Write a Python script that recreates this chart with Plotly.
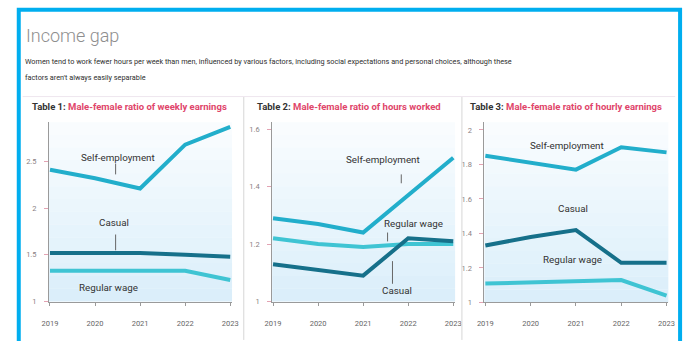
import plotly.graph_objects as go

# ---- data -------------------------------------------------------------
years = [2019, 2020, 2021, 2022, 2023]
year_labels = ["2019", "2020", "2021", "2022", "2023"]

# Table 1: male-female ratio of weekly earnings
weekly_self = [2.41, 2.32, 2.21, 2.68, 2.87]
weekly_casual = [1.52, 1.52, 1.52, 1.50, 1.48]
weekly_regular = [1.33, 1.33, 1.33, 1.33, 1.23]

# Table 2: male-female ratio of hours worked
hours_self = [1.29, 1.27, 1.24, 1.37, 1.50]
hours_regular = [1.22, 1.20, 1.19, 1.20, 1.20]
hours_casual = [1.13, 1.11, 1.09, 1.22, 1.21]

# Table 3: male-female ratio of hourly earnings
hourly_self = [1.85, 1.81, 1.77, 1.90, 1.87]
hourly_casual = [1.33, 1.38, 1.42, 1.23, 1.23]
hourly_regular = [1.11, 1.115, 1.12, 1.13, 1.04]

ticks1 = [1, 1.5, 2, 2.5]
tick1_labels = ["1", "1.5", "2", "2.5"]
ticks2 = [1, 1.2, 1.4, 1.6]
tick2_labels = ["1", "1.2", "1.4", "1.6"]
ticks3 = [1, 1.2, 1.4, 1.6, 1.8, 2]
tick3_labels = ["1", "1.2", "1.4", "1.6", "1.8", "2"]

title = "Income gap"
subtitle_1 = ("Women tend to work fewer hours per week than men, influenced by various factors, "
              "including social expectations and personal choices, although these")
subtitle_2 = "factors aren't always easily separable"

# ---- styling ----------------------------------------------------------
W, H = 691, 341
FONT = "Roboto, 'Open Sans', sans-serif"
C_SELF = "#22aecb"
C_CASUAL = "#16708a"
C_REG = "#3fc4d3"
RED = "#e0456a"


def fx(px):
    return px / W


def fy(py):
    return 1 - py / H


fig = go.Figure()

panels = [
    dict(n=1, x=(42, 229), y=(306, 124), yr=(1, 2.92), ticks=ticks1, labels=tick1_labels,
         series=[(weekly_self, C_SELF), (weekly_regular, C_REG), (weekly_casual, C_CASUAL)]),
    dict(n=2, x=(270, 457), y=(306, 124), yr=(1, 1.624), ticks=ticks2, labels=tick2_labels,
         series=[(hours_self, C_SELF), (hours_regular, C_REG), (hours_casual, C_CASUAL)]),
    dict(n=3, x=(487, 675), y=(307, 124), yr=(1, 2.045), ticks=ticks3, labels=tick3_labels,
         series=[(hourly_self, C_SELF), (hourly_regular, C_REG), (hourly_casual, C_CASUAL)]),
]

layout_axes = {}
shapes = []
for p in panels:
    n = p["n"]
    xa = "x" if n == 1 else f"x{n}"
    ya = "y" if n == 1 else f"y{n}"
    for vals, col in p["series"]:
        fig.add_trace(go.Scatter(x=years, y=vals, mode="lines", xaxis=xa, yaxis=ya,
                                 line=dict(color=col, width=4), hoverinfo="skip",
                                 showlegend=False))
    layout_axes[f"xaxis{'' if n == 1 else n}"] = dict(
        domain=[fx(p["x"][0]), fx(p["x"][1])], range=[2018.98, 2023.04],
        anchor=ya, tickvals=years, ticktext=year_labels, showgrid=False, zeroline=False,
        showline=True, linecolor="#9a9a9a", linewidth=1, ticks="outside", ticklen=3,
        tickcolor="#9a9a9a", tickfont=dict(family=FONT, size=7.5, color="#666"),
        ticklabelstandoff=11, fixedrange=True)
    layout_axes[f"yaxis{'' if n == 1 else n}"] = dict(
        domain=[fy(p["y"][0]), fy(p["y"][1])], range=list(p["yr"]),
        anchor=xa, tickvals=p["ticks"], ticktext=p["labels"], showgrid=False,
        zeroline=False, showline=True, linecolor="#9a9a9a", linewidth=1,
        ticks="outside", ticklen=4, tickcolor="#e3a3b3",
        tickfont=dict(family=FONT, size=7.5, color="#8a7f84"),
        ticklabelstandoff=6, fixedrange=True)
    # soft vertical gradient behind each plot
    steps = 14
    for i in range(steps):
        t = i / (steps - 1)
        shapes.append(dict(type="rect", xref=f"{xa} domain", yref=f"{ya} domain",
                           x0=0, x1=1, y0=1 - (i + 1) / steps, y1=1 - i / steps,
                           fillcolor=f"rgba(205,232,248,{0.12 + 0.6 * t:.3f})",
                           line=dict(width=0), layer="below"))

# panel separators and a faint rule under the header
for sx in (241, 464):
    shapes.append(dict(type="line", xref="paper", yref="paper", x0=fx(sx), x1=fx(sx),
                       y0=fy(98), y1=fy(345), line=dict(color="#d6d6d6", width=1)))
shapes.append(dict(type="line", xref="paper", yref="paper", x0=fx(15), x1=fx(682),
                   y0=fy(98), y1=fy(98), line=dict(color="#eee6ee", width=1)))

# leader lines from labels to their series
leaders = [(110, 166, 177), (110, 238, 254), (402, 177, 186), (388, 236, 245), (393, 265, 288)]
for lx, ly0, ly1 in leaders:
    shapes.append(dict(type="line", xref="paper", yref="paper", x0=fx(lx), x1=fx(lx),
                       y0=fy(ly0), y1=fy(ly1), line=dict(color="#666", width=1)))

# blue frame
shapes.append(dict(type="rect", xref="paper", yref="paper", x0=fx(11), x1=fx(687),
                   y0=fy(360), y1=fy(10), line=dict(color="#00aeef", width=4)))

annotations = []


def text(px, py, s, size, color="#333", anchor="center", weight=None, family=FONT):
    f = dict(family=family, size=size, color=color)
    if weight:
        f["weight"] = weight
    annotations.append(dict(x=fx(px), y=fy(py), xref="paper", yref="paper", text=s,
                            showarrow=False, xanchor=anchor, yanchor="middle", font=f))


text(16, 36, title, 18, "#8e8e8e", "left", 300)
text(15, 62, subtitle_1, 7.3, "#2e2e2e", "left")
text(15, 79, subtitle_2, 7.3, "#2e2e2e", "left")

panel_titles = [
    (22, "Table 1:", "Male-female ratio of weekly earnings"),
    (252, "Table 2:", "Male-female ratio of hours worked"),
    (470, "Table 3:", "Male-female ratio of hourly earnings"),
]
for px, lead, rest in panel_titles:
    text(px, 108, f"<b>{lead}</b> <b><span style='color:{RED}'>{rest}</span></b>", 9.5,
         "#333", "left")

series_labels = [
    (112, 160, "Self-employment"), (108, 226, "Casual"), (103, 292, "Regular wage"),
    (383, 162, "Self-employment"), (415, 227, "Regular wage"), (398, 295, "Casual"),
    (571, 148, "Self-employment"), (578, 212, "Casual"), (577, 263, "Regular wage"),
]
for px, py, s in series_labels:
    text(px, py, s, 9.8, "#333")

fig.update_layout(
    width=W, height=H, margin=dict(l=0, r=0, t=0, b=0),
    paper_bgcolor="white", plot_bgcolor="rgba(0,0,0,0)",
    shapes=shapes, annotations=annotations, showlegend=False,
    **layout_axes,
)

fig.write_html("out.html", config={"displayModeBar": False})
